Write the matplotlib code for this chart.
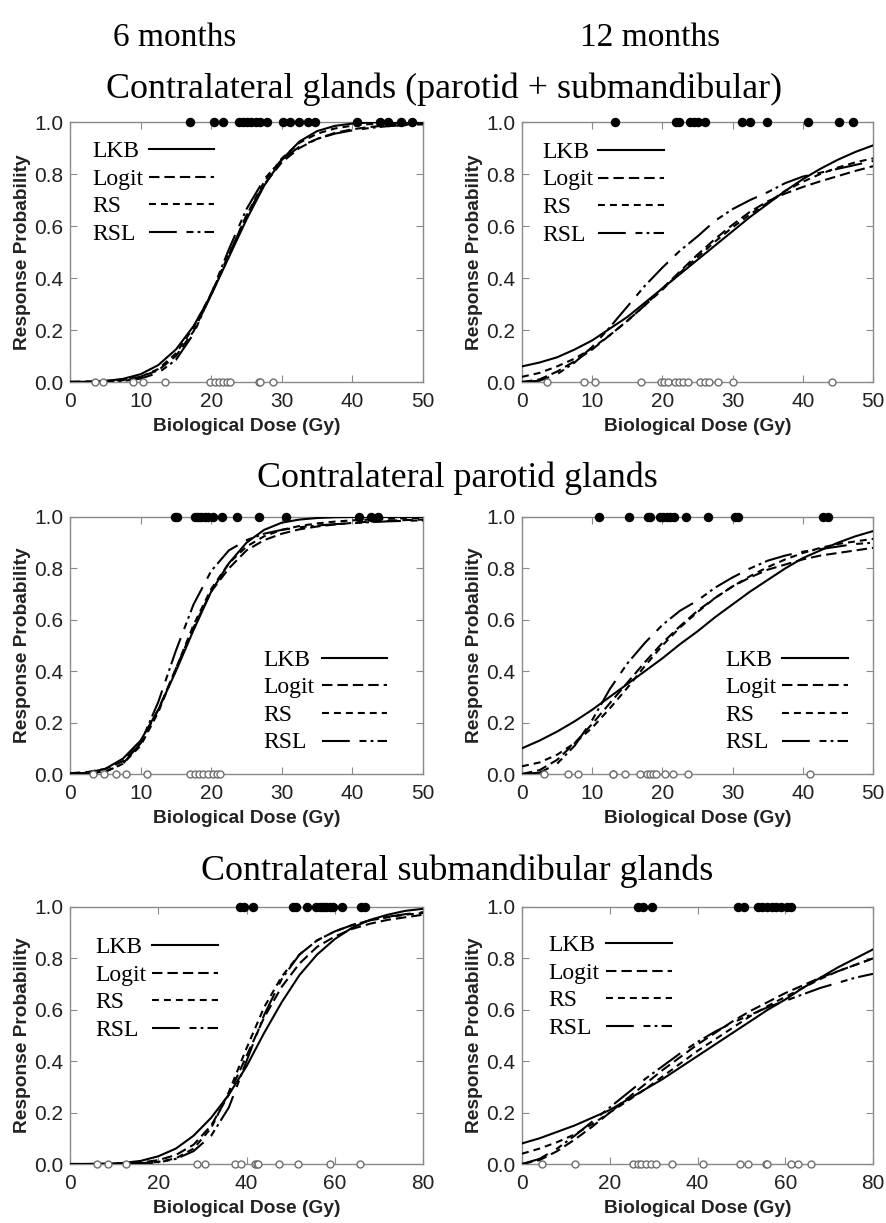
import matplotlib
matplotlib.use("Agg")
import matplotlib.pyplot as plt
from matplotlib.lines import Line2D

# ---- data ----
dose50 = [0, 2.5, 5, 7.5, 10, 12.5, 15, 17.5, 20, 22.5, 25,
          27.5, 30, 32.5, 35, 37.5, 40, 42.5, 45, 47.5, 50]
dose80 = [0, 4, 8, 12, 16, 20, 24, 28, 32, 36, 40,
          44, 48, 52, 56, 60, 64, 68, 72, 76, 80]

models = ["LKB", "Logit", "RS", "RSL"]

# combined glands, 6 months
comb6_lkb = [0.000, 0.001, 0.004, 0.012, 0.030, 0.065, 0.125, 0.215, 0.335, 0.480, 0.625,
             0.755, 0.855, 0.925, 0.965, 0.985, 0.994, 0.998, 1.000, 1.000, 1.000]
comb6_logit = [0.001, 0.002, 0.004, 0.009, 0.020, 0.045, 0.100, 0.195, 0.335, 0.490, 0.640,
               0.760, 0.845, 0.900, 0.935, 0.958, 0.972, 0.981, 0.987, 0.991, 0.994]
comb6_rs = [0.000, 0.000, 0.002, 0.007, 0.020, 0.050, 0.110, 0.210, 0.340, 0.490, 0.640,
            0.770, 0.860, 0.920, 0.955, 0.975, 0.986, 0.992, 0.995, 0.997, 0.998]
comb6_rsl = [0.000, 0.000, 0.001, 0.004, 0.013, 0.035, 0.085, 0.185, 0.340, 0.510, 0.665,
             0.780, 0.855, 0.905, 0.935, 0.955, 0.968, 0.977, 0.984, 0.988, 0.991]
comb6_yes = [17.0, 20.4, 21.7, 23.9, 24.5, 25.1, 25.7, 26.4, 26.9, 27.9, 30.1, 31.1,
             32.5, 33.7, 34.7, 40.7, 43.9, 45.0, 46.9, 48.5]
comb6_no = [3.5, 4.7, 8.9, 10.4, 13.4, 19.8, 20.5, 21.1, 21.7, 22.3, 22.7, 26.7, 26.9, 28.7]

# combined glands, 12 months
comb12_lkb = [0.060, 0.075, 0.095, 0.125, 0.160, 0.205, 0.250, 0.305, 0.360, 0.415, 0.470,
              0.525, 0.580, 0.635, 0.685, 0.735, 0.780, 0.820, 0.855, 0.885, 0.910]
comb12_logit = [0.000, 0.010, 0.040, 0.080, 0.125, 0.180, 0.235, 0.295, 0.360, 0.425, 0.490,
                0.550, 0.605, 0.655, 0.695, 0.725, 0.750, 0.772, 0.792, 0.812, 0.830]
comb12_rs = [0.020, 0.035, 0.060, 0.090, 0.130, 0.180, 0.235, 0.295, 0.355, 0.420, 0.480,
             0.540, 0.595, 0.645, 0.690, 0.735, 0.770, 0.800, 0.825, 0.845, 0.860]
comb12_rsl = [0.000, 0.005, 0.030, 0.075, 0.135, 0.210, 0.290, 0.370, 0.440, 0.505, 0.560,
              0.620, 0.665, 0.700, 0.730, 0.765, 0.790, 0.805, 0.820, 0.835, 0.850]
comb12_yes = [13.3, 22.0, 22.4, 23.9, 24.5, 25.1, 26.1, 31.4, 32.5, 34.9, 40.8, 45.1, 47.2]
comb12_no = [3.6, 8.9, 10.4, 16.9, 19.8, 20.2, 20.8, 21.8, 22.4, 23.0, 23.6,
             25.4, 26.1, 26.7, 27.9, 30.1, 44.1]

# parotid glands, 6 months
par6_lkb = [0.000, 0.005, 0.020, 0.060, 0.130, 0.250, 0.400, 0.560, 0.710, 0.820, 0.900,
            0.950, 0.978, 0.990, 0.996, 0.999, 1.000, 1.000, 1.000, 1.000, 1.000]
par6_logit = [0.003, 0.008, 0.020, 0.050, 0.120, 0.250, 0.410, 0.570, 0.710, 0.800, 0.870,
              0.910, 0.935, 0.952, 0.963, 0.971, 0.977, 0.982, 0.985, 0.988, 0.990]
par6_rs = [0.000, 0.002, 0.010, 0.040, 0.110, 0.240, 0.410, 0.580, 0.720, 0.820, 0.885,
           0.925, 0.950, 0.965, 0.975, 0.982, 0.987, 0.990, 0.993, 0.995, 0.996]
par6_rsl = [0.000, 0.001, 0.008, 0.040, 0.120, 0.280, 0.480, 0.660, 0.790, 0.870, 0.910,
            0.935, 0.950, 0.960, 0.967, 0.972, 0.976, 0.980, 0.983, 0.985, 0.987]
par6_yes = [14.9, 15.1, 17.7, 18.2, 18.6, 19.1, 19.6, 20.2, 21.5, 23.6, 26.7, 30.6,
            41.0, 42.7, 43.6]
par6_no = [3.2, 4.8, 6.5, 8.0, 10.9, 17.0, 17.7, 18.3, 18.9, 19.6, 20.2, 20.8, 21.3]

# parotid glands, 12 months
par12_lkb = [0.100, 0.130, 0.165, 0.205, 0.250, 0.300, 0.350, 0.400, 0.450, 0.505, 0.555,
             0.610, 0.660, 0.710, 0.755, 0.800, 0.840, 0.870, 0.900, 0.925, 0.945]
par12_logit = [0.000, 0.015, 0.055, 0.120, 0.195, 0.275, 0.355, 0.435, 0.510, 0.575, 0.635,
               0.685, 0.730, 0.765, 0.795, 0.815, 0.835, 0.850, 0.860, 0.870, 0.880]
par12_rs = [0.030, 0.045, 0.075, 0.120, 0.180, 0.255, 0.335, 0.420, 0.500, 0.570, 0.630,
            0.685, 0.730, 0.770, 0.805, 0.835, 0.860, 0.880, 0.895, 0.905, 0.915]
par12_rsl = [0.000, 0.005, 0.040, 0.110, 0.210, 0.330, 0.430, 0.510, 0.580, 0.635, 0.675,
             0.725, 0.765, 0.800, 0.830, 0.850, 0.865, 0.875, 0.885, 0.895, 0.900]
par12_yes = [10.9, 15.3, 18.0, 18.3, 19.6, 20.1, 20.6, 21.1, 21.6, 23.3, 26.5, 30.3,
             30.7, 42.9, 43.6]
par12_no = [3.2, 6.5, 8.0, 12.9, 13.0, 14.7, 16.8, 17.8, 18.2, 18.7, 19.1, 20.4,
            21.5, 23.7, 41.0]

# submandibular glands, 6 months
sub6_lkb = [0.000, 0.000, 0.001, 0.004, 0.012, 0.030, 0.060, 0.110, 0.180, 0.270, 0.380,
            0.510, 0.630, 0.735, 0.815, 0.875, 0.920, 0.950, 0.970, 0.985, 0.993]
sub6_logit = [0.000, 0.000, 0.001, 0.002, 0.006, 0.015, 0.035, 0.075, 0.150, 0.270, 0.420,
              0.570, 0.690, 0.780, 0.845, 0.885, 0.915, 0.935, 0.950, 0.960, 0.970]
sub6_rs = [0.000, 0.000, 0.000, 0.001, 0.003, 0.008, 0.022, 0.060, 0.140, 0.280, 0.450,
           0.610, 0.730, 0.815, 0.870, 0.905, 0.930, 0.948, 0.960, 0.970, 0.977]
sub6_rsl = [0.000, 0.000, 0.000, 0.000, 0.002, 0.006, 0.020, 0.050, 0.110, 0.220, 0.400,
            0.580, 0.720, 0.815, 0.870, 0.905, 0.930, 0.948, 0.962, 0.972, 0.980]
sub6_yes = [38.5, 39.4, 41.4, 50.6, 51.3, 53.7, 55.8, 56.6, 57.4, 58.1, 58.9, 59.6,
            61.7, 66.0, 66.8]
sub6_no = [6.2, 8.5, 12.8, 28.8, 30.6, 37.4, 38.7, 41.9, 42.3, 42.6, 47.4, 51.7, 58.9, 65.8]

# submandibular glands, 12 months
sub12_lkb = [0.080, 0.100, 0.125, 0.150, 0.180, 0.210, 0.250, 0.290, 0.330, 0.375, 0.420,
             0.465, 0.510, 0.555, 0.600, 0.640, 0.685, 0.725, 0.765, 0.800, 0.835]
sub12_logit = [0.000, 0.015, 0.050, 0.095, 0.145, 0.200, 0.255, 0.310, 0.365, 0.415, 0.465,
               0.510, 0.555, 0.595, 0.630, 0.665, 0.695, 0.725, 0.750, 0.775, 0.800]
sub12_rs = [0.040, 0.060, 0.085, 0.115, 0.155, 0.200, 0.245, 0.290, 0.340, 0.390, 0.440,
            0.485, 0.530, 0.575, 0.615, 0.650, 0.685, 0.720, 0.750, 0.775, 0.800]
sub12_rsl = [0.000, 0.020, 0.060, 0.110, 0.165, 0.220, 0.275, 0.330, 0.380, 0.430, 0.475,
             0.515, 0.550, 0.580, 0.610, 0.635, 0.660, 0.685, 0.705, 0.725, 0.740]
sub12_yes = [26.5, 27.5, 29.6, 49.3, 50.6, 53.8, 54.8, 55.9, 56.9, 58.0, 59.1, 60.3, 61.4]
sub12_no = [4.5, 12.0, 25.4, 26.5, 27.1, 28.3, 29.3, 30.6, 34.3, 41.2, 49.8, 51.6,
            55.6, 55.9, 61.4, 62.9, 65.8]

col_titles = ["6 months", "12 months"]
row_titles = ["Contralateral glands (parotid + submandibular)",
              "Contralateral parotid glands",
              "Contralateral submandibular glands"]

panels = [
    (dose50, [comb6_lkb, comb6_logit, comb6_rs, comb6_rsl], comb6_yes, comb6_no),
    (dose50, [comb12_lkb, comb12_logit, comb12_rs, comb12_rsl], comb12_yes, comb12_no),
    (dose50, [par6_lkb, par6_logit, par6_rs, par6_rsl], par6_yes, par6_no),
    (dose50, [par12_lkb, par12_logit, par12_rs, par12_rsl], par12_yes, par12_no),
    (dose80, [sub6_lkb, sub6_logit, sub6_rs, sub6_rsl], sub6_yes, sub6_no),
    (dose80, [sub12_lkb, sub12_logit, sub12_rs, sub12_rsl], sub12_yes, sub12_no),
]

# ---- styling ----
plt.rcParams["lines.scale_dashes"] = False
dash_styles = ["-", (0, (7.5, 3.6)), (0, (5, 3.6)), (0, (20, 7, 5, 3, 2, 3))]
serif = "Liberation Serif"
sans = "Liberation Sans"
spine_col = "#8a8a8a"
text_col = "#222222"

W, H = 886, 1223
fig = plt.figure(figsize=(W / 100, H / 100), dpi=100)
fig.patch.set_facecolor("white")

col_left = [70, 522]
col_width = [353, 351]
row_top = [122, 517, 907]
row_height = [260, 257, 257]

# legend layout in pixels: text left, handle start, handle end, first row centre
legend_px = [
    (92, 149, 214, 149),
    (542, 598, 664, 150),
    (263, 322, 387, 658),
    (725, 782, 848, 658),
    (95, 152, 218, 945),
    (548, 606, 672, 943),
]
legend_gap = 27.5

for i, (x, curves, yes, no) in enumerate(panels):
    r, c = divmod(i, 2)
    left = col_left[c] / W
    bottom = 1 - (row_top[r] + row_height[r]) / H
    ax = fig.add_axes([left, bottom, col_width[c] / W, row_height[r] / H])

    xmax = x[-1]
    for name, y, ls in zip(models, curves, dash_styles):
        ax.plot(x, y, color="black", lw=1.5, linestyle=ls, label=name, zorder=3)

    ax.plot(yes, [1.0] * len(yes), "o", color="black", ms=5.8, clip_on=False, zorder=4)
    ax.plot(no, [0.0] * len(no), "o", mfc="white", mec="#6f6f6f", mew=1.0, ms=5,
            clip_on=False, zorder=4)

    ax.set_xlim(0, xmax)
    ax.set_ylim(0, 1.0)
    step = 10 if xmax == 50 else 20
    ax.set_xticks(range(0, int(xmax) + 1, step))
    ax.set_yticks([0.0, 0.2, 0.4, 0.6, 0.8, 1.0])
    ax.set_yticklabels(["0.0", "0.2", "0.4", "0.6", "0.8", "1.0"])
    ax.tick_params(direction="in", length=5, width=0.8, color=spine_col,
                   top=True, right=True, labelsize=15, labelcolor=text_col)
    ax.tick_params(axis="x", pad=7)
    ax.tick_params(axis="y", pad=5)
    for lab in ax.get_xticklabels() + ax.get_yticklabels():
        lab.set_fontfamily(sans)
    for sp in ax.spines.values():
        sp.set_color(spine_col)
        sp.set_linewidth(1.0)

    ax.set_xlabel("Biological Dose (Gy)", fontfamily=sans, fontweight="bold",
                  fontsize=13.8, color=text_col, labelpad=5)
    ax.set_ylabel("Response Probability", fontfamily=sans, fontweight="bold",
                  fontsize=13.8, color=text_col, labelpad=2)

    # legend: label first (left aligned), line sample to the right
    tx, h0, h1, y0 = legend_px[i]
    for j, (name, ls) in enumerate(zip(models, dash_styles)):
        yc = y0 + j * legend_gap
        fig.text(tx / W, 1 - (yc + 8) / H, name, fontfamily=serif, fontsize=17,
                 ha="left", va="baseline")
        fig.add_artist(Line2D([h0 / W, h1 / W], [1 - yc / H, 1 - yc / H],
                              transform=fig.transFigure, color="black", lw=1.5,
                              linestyle=ls))

fig.text(175 / W, 1 - 46 / H, col_titles[0], fontfamily=serif, fontsize=24,
         ha="center", va="baseline")
fig.text(650 / W, 1 - 46 / H, col_titles[1], fontfamily=serif, fontsize=24,
         ha="center", va="baseline")
for (cx, by), title in zip([(444, 98), (457, 487), (457, 880)], row_titles):
    fig.text(cx / W, 1 - by / H, title, fontfamily=serif, fontsize=25.8,
             ha="center", va="baseline")

fig.savefig("out.png", dpi=100, facecolor="white")
